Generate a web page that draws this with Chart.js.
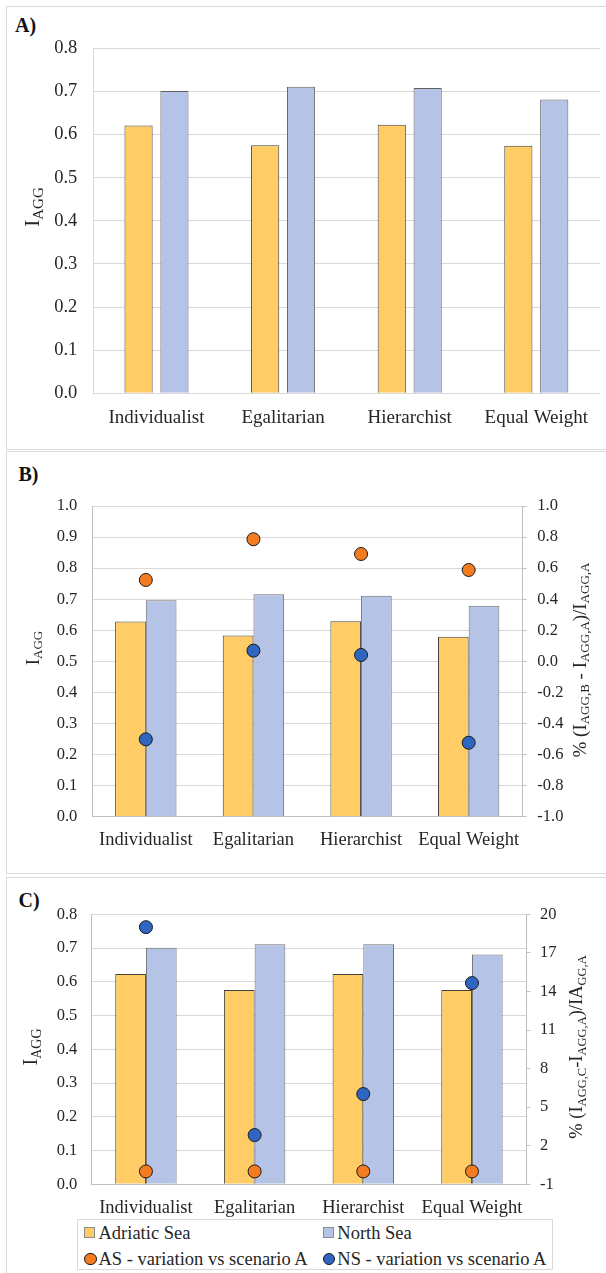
<!DOCTYPE html>
<html>
<head>
<meta charset="utf-8">
<script src="https://cdn.jsdelivr.net/npm/chart.js@4.4.0/dist/chart.umd.min.js"></script>
<style>
  body { margin: 0; background: #fff; width: 606px; height: 1273px; overflow: hidden; position: relative;
         font-family: "Liberation Serif", "Times New Roman", serif; color: #262626; }
  .panel { position: absolute; left: 6px; width: 640px; border: 1.5px solid #d9d9d9; box-sizing: border-box; }
  .tag { position: absolute; font-weight: bold; font-size: 20px; line-height: 20px; color: #111; }
  canvas { position: absolute; left: 0; }
  #legend { position: absolute; left: 76.5px; top: 1219.3px; width: 476px; height: 51px;
            border: 1px solid #d9d9d9; box-sizing: border-box; font-size: 18.5px;
            font-family: "Liberation Serif", "Times New Roman", serif; }
  .item { position: absolute; height: 20px; line-height: 20px; white-space: nowrap; }
  .mk { position: absolute; box-sizing: border-box; }
</style>
</head>
<body>
<div class="panel" style="top:6px;height:444px"></div>
<div class="panel" style="top:451px;height:423px"></div>
<div class="panel" style="top:877px;height:420px"></div>
<div class="tag" style="left:15px;top:15px">A)</div>
<div class="tag" style="left:18.5px;top:463.5px">B)</div>
<div class="tag" style="left:18.5px;top:890px">C)</div>

<canvas id="chartA" width="606" height="450" style="top:0"></canvas>
<canvas id="chartB" width="606" height="424" style="top:450px"></canvas>
<canvas id="chartC" width="606" height="342" style="top:877px"></canvas>
<div id="legend"></div>

<script>
const categories = ['Individualist', 'Egalitarian', 'Hierarchist', 'Equal Weight'];
const seriesNames = ['Adriatic Sea', 'North Sea', 'AS - variation vs scenario A', 'NS - variation vs scenario A'];

// A) I_AGG
const iaggA_AS = [0.621, 0.575, 0.623, 0.574];
const iaggA_NS = [0.701, 0.711, 0.708, 0.681];

// B) I_AGG and % variation vs A
const iaggB_AS = [0.628, 0.583, 0.629, 0.579];
const iaggB_NS = [0.697, 0.716, 0.711, 0.679];
const varB_AS = [0.524, 0.786, 0.691, 0.588];
const varB_NS = [-0.502, 0.069, 0.041, -0.524];

// C) I_AGG and % variation vs A
const iaggC_AS = [0.623, 0.576, 0.623, 0.576];
const iaggC_NS = [0.701, 0.711, 0.711, 0.681];
const varC_AS = [0, 0, 0, 0];
const varC_NS = [19.0, 2.83, 6.02, 14.65];

// axis ranges [min, max, step]
const leftAxisA = [0, 0.8, 0.1];
const leftAxisB = [0, 1.0, 0.1];
const rightAxisB = [-1, 1, 0.2];
const leftAxisC = [0, 0.8, 0.1];
const rightAxisC = [-1, 20, 3];

const orange = '#FFCC66';
const blue = '#B4C3E6';
const dotOrange = '#F47B20';
const dotBlue = '#2E66C2';
const serif = '"Liberation Serif", "Times New Roman", serif';
const textCol = '#262626';

Chart.defaults.font.family = serif;
Chart.defaults.color = textCol;

// axis titles with subscripts: parts alternate normal / subscript
const subTitles = {
  id: 'subTitles',
  afterDraw(chart, args, opts) {
    const ctx = chart.ctx;
    (opts.items || []).forEach(it => {
      ctx.save();
      ctx.translate(it.x, it.y);
      ctx.rotate(-Math.PI / 2);
      ctx.fillStyle = textCol;
      ctx.textBaseline = 'alphabetic';
      ctx.textAlign = 'left';
      const big = it.size + 'px ' + serif;
      const small = it.sub + 'px ' + serif;
      let total = 0;
      it.parts.forEach((p, i) => { ctx.font = i % 2 ? small : big; total += ctx.measureText(p).width; });
      let pos = -total / 2;
      it.parts.forEach((p, i) => {
        ctx.font = i % 2 ? small : big;
        ctx.fillText(p, pos, i % 2 ? it.drop : 0);
        pos += ctx.measureText(p).width;
      });
      ctx.restore();
    });
  }
};

function barSet(label, data, color, edge, catPct, barPct) {
  return { label: label, data: data, backgroundColor: color, borderColor: edge, borderWidth: 1,
           categoryPercentage: catPct, barPercentage: barPct, order: 1 };
}

function dotSet(label, data, color) {
  return { type: 'line', label: label, data: data, yAxisID: 'y2', showLine: false,
           pointRadius: 6.5, pointBackgroundColor: color, backgroundColor: color,
           pointBorderColor: '#1a1a1a', pointBorderWidth: 1, order: 0, clip: false };
}

function leftAxis(range, fontSize, pad, width, lineCol) {
  return {
    min: range[0], max: range[1],
    ticks: { stepSize: range[2], callback: v => v.toFixed(1), padding: pad,
             font: { family: serif, size: fontSize }, color: textCol },
    grid: { color: '#d9d9d9', drawTicks: false },
    border: { color: lineCol },
    afterFit: s => { s.width = width; }
  };
}

function xAxis(fontSize, pad, height, lineCol) {
  return {
    grid: { display: false, drawTicks: false },
    border: { display: true, color: lineCol },
    ticks: { padding: pad, font: { family: serif, size: fontSize }, color: textCol },
    afterFit: s => { s.height = height; }
  };
}

function rightAxis(range, digits, pad, width) {
  return {
    position: 'right', min: range[0], max: range[1],
    ticks: { stepSize: range[2], callback: v => v.toFixed(digits), padding: pad,
             font: { family: serif, size: 16.5 }, color: textCol },
    grid: { drawOnChartArea: false, tickLength: 4, color: '#bfbfbf' },
    border: { color: '#bfbfbf' },
    afterFit: s => { s.width = width; }
  };
}

const chartA = new Chart(document.getElementById('chartA'), {
  type: 'bar',
  data: {
    labels: categories,
    datasets: [
      barSet(seriesNames[0], iaggA_AS, orange, '#404040', 0.567, 0.785),
      barSet(seriesNames[1], iaggA_NS, blue, '#606060', 0.567, 0.785)
    ]
  },
  options: {
    responsive: false, animation: false,
    layout: { padding: { top: 48.3, right: 6.4, left: 0, bottom: 0 } },
    plugins: {
      legend: { display: false }, tooltip: { enabled: false },
      subTitles: { items: [{ x: 38.5, y: 207, size: 21, sub: 15, drop: 4, parts: ['I', 'AGG'] }] }
    },
    scales: {
      x: xAxis(19, 13.8, 56.7, '#d9d9d9'),
      y: leftAxis(leftAxisA, 18.5, 15.9, 93.2, '#d9d9d9')
    }
  },
  plugins: [subTitles]
});

const chartB = new Chart(document.getElementById('chartB'), {
  type: 'bar',
  data: {
    labels: categories,
    datasets: [
      barSet(seriesNames[0], iaggB_AS, orange, '#404040', 0.57, 1.0),
      barSet(seriesNames[1], iaggB_NS, blue, '#707070', 0.57, 1.0),
      dotSet(seriesNames[2], varB_AS, dotOrange),
      dotSet(seriesNames[3], varB_NS, dotBlue)
    ]
  },
  options: {
    responsive: false, animation: false,
    layout: { padding: { top: 56, right: 0, left: 0, bottom: 0 } },
    plugins: {
      legend: { display: false }, tooltip: { enabled: false },
      subTitles: { items: [
        { x: 38.5, y: 198, size: 19, sub: 13, drop: 3.5, parts: ['I', 'AGG'] },
        { x: 585.5, y: 210, size: 19, sub: 13, drop: 3.5,
          parts: ['% (I', 'AGG,B', ' - I', 'AGG,A', ')/I', 'AGG,A'] }
      ] }
    },
    scales: {
      x: xAxis(18.5, 12.2, 57.3, '#bfbfbf'),
      y: leftAxis(leftAxisB, 16.5, 14.7, 92, '#bfbfbf'),
      y2: rightAxis(rightAxisB, 1, 10.8, 83.5)
    }
  },
  plugins: [subTitles]
});

const chartC = new Chart(document.getElementById('chartC'), {
  type: 'bar',
  data: {
    labels: categories,
    datasets: [
      barSet(seriesNames[0], iaggC_AS, orange, '#404040', 0.565, 1.0),
      barSet(seriesNames[1], iaggC_NS, blue, '#707070', 0.565, 1.0),
      dotSet(seriesNames[2], varC_AS, dotOrange),
      dotSet(seriesNames[3], varC_NS, dotBlue)
    ]
  },
  options: {
    responsive: false, animation: false,
    layout: { padding: { top: 37.3, right: 0, left: 0, bottom: 0 } },
    plugins: {
      legend: { display: false }, tooltip: { enabled: false },
      subTitles: { items: [
        { x: 37, y: 170, size: 20, sub: 14, drop: 4, parts: ['I', 'AGG'] },
        { x: 582, y: 170, size: 18.5, sub: 12.5, drop: 3.5,
          parts: ['% (I', 'AGG,C', '-I', 'AGG,A', ')/IA', 'GG,A'] }
      ] }
    },
    scales: {
      x: xAxis(18.5, 12.6, 34.7, '#bfbfbf'),
      y: leftAxis(leftAxisC, 16.5, 14.3, 91.6, '#bfbfbf'),
      y2: rightAxis(rightAxisC, 0, 9.7, 79.7)
    }
  },
  plugins: [subTitles]
});

// legend for panel C, built from its datasets (2 columns x 2 rows)
const legend = document.getElementById('legend');
const slots = [[6.5, 2.7], [245.3, 2.7], [6.5, 28.4], [245.3, 28.4]];
chartC.data.datasets.forEach((ds, i) => {
  const item = document.createElement('div');
  item.className = 'item';
  item.style.left = slots[i][0] + 'px';
  item.style.top = slots[i][1] + 'px';
  const mk = document.createElement('span');
  mk.className = 'mk';
  if (ds.type === 'line') {
    mk.style.cssText = 'left:0;top:4px;width:12.5px;height:12.5px;border-radius:50%;border:1px solid #1a1a1a;background:' + ds.pointBackgroundColor;
  } else {
    mk.style.cssText = 'left:0;top:4.5px;width:11px;height:11px;border:1px solid #8c8c8c;background:' + ds.backgroundColor;
  }
  const txt = document.createElement('span');
  txt.textContent = ds.label;
  txt.style.marginLeft = '14.5px';
  item.appendChild(mk);
  item.appendChild(txt);
  legend.appendChild(item);
});
</script>
</body>
</html>
